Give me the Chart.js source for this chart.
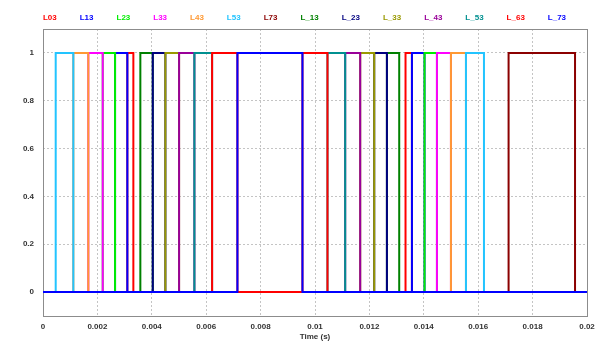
<!DOCTYPE html>
<html>
<head>
<meta charset="utf-8">
<script src="https://cdn.jsdelivr.net/npm/chart.js@4"></script>
<style>
  html, body { margin: 0; padding: 0; background: #fff; }
</style>
</head>
<body>
<canvas id="chart" width="606" height="341"></canvas>
<script>
// switching instants in seconds: each entry toggles the signal (0 -> 1 -> 0 ...)
const L03  = [0.003101, 0.003322, 0.013328, 0.013564];
const L13  = [0.002649, 0.003101, 0.013564, 0.014027];
const L23  = [0.002196, 0.002649, 0.014027, 0.014483];
const L33  = [0.001666, 0.002196, 0.014483, 0.014998];
const L43  = [0.001115, 0.001666, 0.014998, 0.015550];
const L53  = [0.000467, 0.001115, 0.015550, 0.016212];
const L73  = [0.017117, 0.019560];
const L_13 = [0.003579, 0.004036, 0.012644, 0.013096];
const L_23 = [0.004036, 0.004499, 0.012177, 0.012644];
const L_33 = [0.004499, 0.005003, 0.011662, 0.012177];
const L_43 = [0.005003, 0.005566, 0.011110, 0.011662];
const L_53 = [0.005566, 0.006217, 0.010459, 0.011110];
const L_63 = [0.006217, 0.007148, 0.009539, 0.010459];
const L_73 = [0.007148, 0.009539];

const names  = ['L03', 'L13', 'L23', 'L33', 'L43', 'L53', 'L73', 'L_13', 'L_23', 'L_33', 'L_43', 'L_53', 'L_63', 'L_73'];
const series = [L03, L13, L23, L33, L43, L53, L73, L_13, L_23, L_33, L_43, L_53, L_63, L_73];
const colors = ['#ff0000', '#0000ff', '#00ee00', '#ff00ff', '#ff9933', '#22c4ff', '#8b0000',
                '#008000', '#000080', '#999900', '#990099', '#009090', '#ff0000', '#0000ff'];

const xTicks = [0, 0.002, 0.004, 0.006, 0.008, 0.01, 0.012, 0.014, 0.016, 0.018, 0.02];
const yTicks = [0, 0.2, 0.4, 0.6, 0.8, 1];
const tEnd = 0.02;

function toSteps(times) {
    const pts = [{x: 0, y: 0}];
    let level = 0;
    times.forEach(t => {
        level = 1 - level;
        pts.push({x: t, y: level});
    });
    pts.push({x: tEnd, y: level});
    return pts;
}

const FONT = '"Liberation Sans", Arial, sans-serif';

// plain coloured text legend, no boxes
const textLegend = {
    id: 'textLegend',
    afterDraw(chart) {
        const ctx = chart.ctx;
        ctx.save();
        ctx.font = 'bold 8px ' + FONT;
        ctx.textBaseline = 'middle';
        const gap = 23;
        const items = chart.data.datasets.map(ds => ({
            text: ds.label, color: ds.borderColor, w: ctx.measureText(ds.label).width
        }));
        const total = items.reduce((s, it) => s + it.w, 0) + gap * (items.length - 1);
        let x = chart.width / 2 - total / 2 + 1.5;
        items.forEach(it => {
            ctx.fillStyle = it.color;
            ctx.fillText(it.text, x, 18);
            x += it.w + gap;
        });
        ctx.restore();
    }
};

// grey frame round the plot area
const frame = {
    id: 'frame',
    beforeDatasetsDraw(chart) {
        const {ctx, chartArea: a} = chart;
        ctx.save();
        ctx.strokeStyle = '#8c8c8c';
        ctx.lineWidth = 1;
        ctx.strokeRect(Math.round(a.left) + 0.5, Math.round(a.top) + 0.5,
                       Math.round(a.right - a.left), Math.round(a.bottom - a.top));
        ctx.restore();
    }
};

new Chart(document.getElementById('chart').getContext('2d'), {
    type: 'line',
    data: {
        datasets: series.map((s, i) => ({
            label: names[i],
            data: toSteps(s),
            borderColor: colors[i],
            backgroundColor: colors[i],
            borderWidth: 2,
            pointRadius: 0,
            stepped: true,
            fill: false,
            borderJoinStyle: 'miter',
            order: -i
        }))
    },
    options: {
        responsive: false,
        animation: false,
        devicePixelRatio: 1,
        layout: { padding: { top: 29, right: 19, bottom: 0, left: 0 } },
        plugins: {
            legend: { display: false },
            tooltip: { enabled: false }
        },
        scales: {
            x: {
                type: 'linear',
                min: 0,
                max: tEnd,
                afterBuildTicks: axis => { axis.ticks = xTicks.map(v => ({value: v})); },
                afterFit: axis => { axis.height = 25; },
                ticks: {
                    padding: 6,
                    maxRotation: 0,
                    autoSkip: false,
                    color: '#333',
                    font: { family: FONT, size: 8, weight: 'bold' },
                    callback: v => String(v)
                },
                grid: {
                    drawTicks: false,
                    color: ctx => (ctx.tick && ctx.tick.value === 0) ? 'rgba(0,0,0,0)' : '#c4c4c4'
                },
                border: { display: false, dash: [2, 2] },
                title: {
                    display: true,
                    text: 'Time (s)',
                    color: '#333',
                    padding: 0,
                    font: { family: FONT, size: 8, weight: 'bold', lineHeight: 1 }
                }
            },
            y: {
                type: 'linear',
                min: -0.1,
                max: 1.1,
                afterBuildTicks: axis => { axis.ticks = yTicks.map(v => ({value: v})); },
                afterFit: axis => { axis.width = 43; },
                ticks: {
                    padding: 9,
                    color: '#333',
                    font: { family: FONT, size: 8, weight: 'bold' },
                    callback: v => String(v)
                },
                grid: { drawTicks: false, color: '#c4c4c4' },
                border: { display: false, dash: [2, 2] }
            }
        }
    },
    plugins: [frame, textLegend]
});
</script>
</body>
</html>
